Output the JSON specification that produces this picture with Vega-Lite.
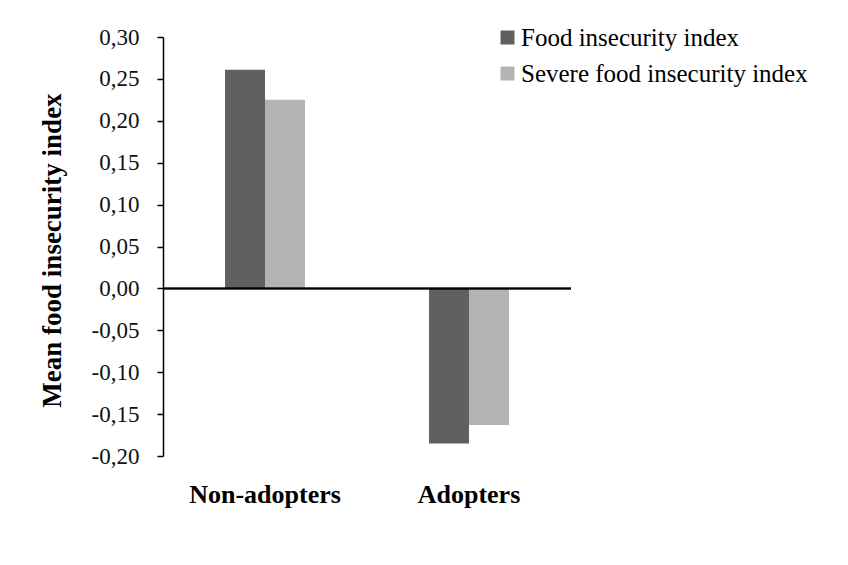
{
  "$schema": "https://vega.github.io/schema/vega-lite/v6.json",
  "width": 408,
  "height": 419,
  "autosize": {"type": "none"},
  "padding": {"left": 163, "top": 37, "right": 277, "bottom": 109},
  "background": "white",
  "config": {
    "view": {"stroke": null},
    "font": "Liberation Serif, Times New Roman, serif"
  },
  "data": {
    "values": [
      {"group": "Non-adopters", "series": "Food insecurity index", "value": 0.261},
      {"group": "Non-adopters", "series": "Severe food insecurity index", "value": 0.225},
      {"group": "Adopters", "series": "Food insecurity index", "value": -0.185},
      {"group": "Adopters", "series": "Severe food insecurity index", "value": -0.163}
    ]
  },
  "layer": [
    {
      "mark": {"type": "bar"},
      "encoding": {
        "x": {
          "field": "group", "type": "nominal",
          "sort": ["Non-adopters", "Adopters"],
          "scale": {"paddingInner": 0.608, "paddingOuter": 0.304},
          "axis": {
            "title": null, "domain": false, "ticks": false, "labelAngle": 0,
            "labelFontWeight": "bold", "labelFontSize": 26, "labelColor": "black",
            "labelPadding": 25, "labelFont": "Liberation Serif, Times New Roman, serif", "labelBaseline": "top"
          }
        },
        "xOffset": {
          "field": "series", "type": "nominal",
          "sort": ["Food insecurity index", "Severe food insecurity index"],
          "scale": {"paddingInner": 0, "paddingOuter": 0}
        },
        "y": {
          "field": "value", "type": "quantitative",
          "scale": {"domain": [-0.2, 0.3], "nice": false, "zero": false},
          "axis": {
            "title": "Mean food insecurity index",
            "titleFont": "Liberation Serif, Times New Roman, serif", "titleFontSize": 27, "titleFontWeight": "bold",
            "titleColor": "black",
            "titleAngle": -90, "titleX": -111, "titleY": 213,
            "titleAlign": "center", "titleBaseline": "middle",
            "values": [-0.2, -0.15, -0.1, -0.05, 0, 0.05, 0.1, 0.15, 0.2, 0.25, 0.3],
            "labelExpr": "(datum.value < -1e-9 ? '-' : '') + replace(format(abs(datum.value), '.2f'), '.', ',')",
            "labelFontSize": 23, "labelColor": "#111", "labelPadding": 18,
            "labelFont": "Liberation Serif, Times New Roman, serif",
            "grid": false, "domainColor": "black", "domainWidth": 1.5,
            "tickColor": "black", "tickSize": 6, "tickWidth": 1.5
          }
        },
        "color": {
          "field": "series", "type": "nominal",
          "scale": {
            "domain": ["Food insecurity index", "Severe food insecurity index"],
            "range": ["#606060", "#b3b3b3"]
          },
          "legend": {
            "title": null, "orient": "none", "legendX": 332, "legendY": -12,
            "padding": 0, "symbolType": "square", "symbolSize": 196,
            "symbolStrokeWidth": 0, "labelFontSize": 25, "labelFont": "Liberation Serif, Times New Roman, serif",
            "labelColor": "black", "labelOffset": 1, "rowPadding": 10, "labelLimit": 400
          }
        }
      }
    },
    {
      "mark": {"type": "rule", "color": "black", "strokeWidth": 1.5},
      "encoding": {"y": {"datum": 0, "type": "quantitative"}}
    }
  ]
}
